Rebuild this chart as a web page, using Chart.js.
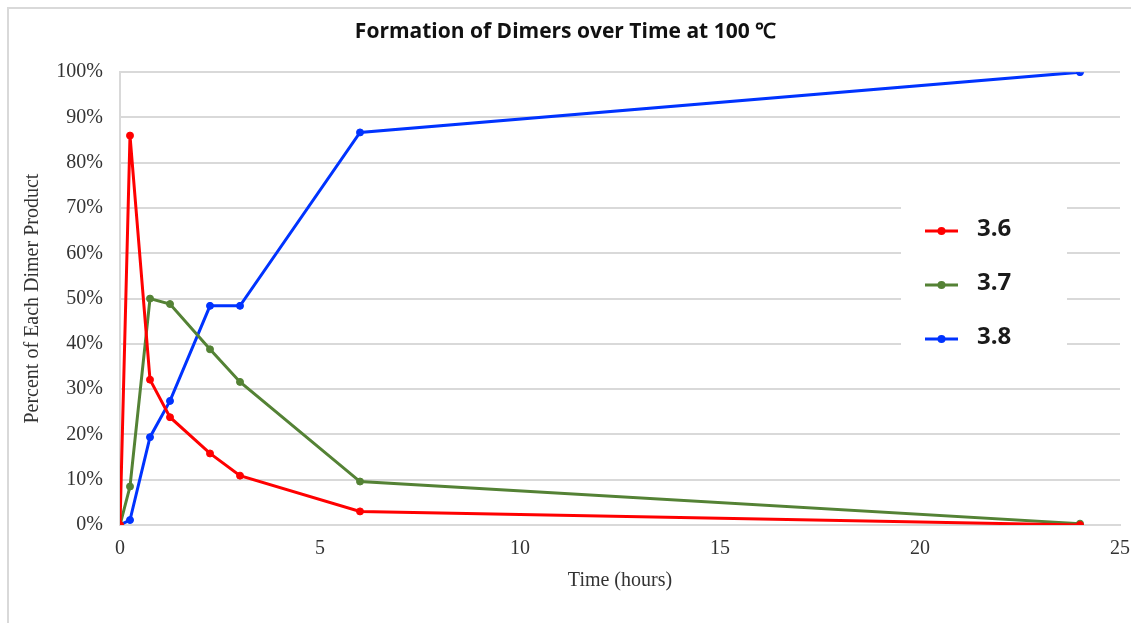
<!DOCTYPE html>
<html>
<head>
<meta charset="utf-8">
<title>Formation of Dimers over Time</title>
<script src="https://cdn.jsdelivr.net/npm/chart.js@4/dist/chart.umd.min.js"></script>
<style>
  html, body { margin: 0; padding: 0; background: #fff; }
  #wrap { width: 1131px; height: 623px; position: relative; }
</style>
</head>
<body>
<div id="wrap"><canvas id="chartDimers"></canvas></div>
<script>
// sampling times (hours) and percent of each dimer product
var hours   = [0, 0.25, 0.75, 1.25, 2.25, 3, 6, 24];
var dimer36 = [0, 86.0, 32.1, 23.8, 15.8, 10.9, 3.0, 0];
var dimer37 = [0, 8.5, 50.0, 48.8, 38.8, 31.6, 9.6, 0.3];
var dimer38 = [0, 1.1, 19.4, 27.4, 48.4, 48.4, 86.7, 100];

var seriesNames  = ['3.6', '3.7', '3.8'];
var seriesColors = ['#ff0000', '#548235', '#0033ff'];

var yTicks = [0, 10, 20, 30, 40, 50, 60, 70, 80, 90, 100];
var xTicks = [0, 5, 10, 15, 20, 25];

var serif = "'Liberation Serif', 'Times New Roman', serif";

function toPoints(values) {
  return hours.map(function (h, i) { return {x: h, y: values[i]}; });
}

function makeDataset(label, values, color) {
  return {
    label: label,
    data: toPoints(values),
    borderColor: color,
    backgroundColor: color,
    pointBackgroundColor: color,
    pointBorderColor: color,
    borderWidth: 3,
    pointRadius: 3.5,
    pointBorderWidth: 1,
    tension: 0,
    fill: false
  };
}

// thin grey frame round the chart
var framePlugin = {
  id: 'frame',
  afterDraw: function (chart) {
    var ctx = chart.ctx;
    ctx.save();
    ctx.strokeStyle = '#d9d9d9';
    ctx.lineWidth = 2;
    ctx.beginPath();
    ctx.moveTo(8, 623);
    ctx.lineTo(8, 8);
    ctx.lineTo(1131, 8);
    ctx.stroke();
    ctx.restore();
  }
};

// legend sitting inside the plot, on a white patch
var insideLegend = {
  id: 'insideLegend',
  afterDatasetsDraw: function (chart) {
    var ctx = chart.ctx;
    ctx.save();
    ctx.fillStyle = '#fff';
    ctx.fillRect(901, 200, 166, 160);
    chart.data.datasets.forEach(function (ds, i) {
      var y = 229 + i * 54;
      ctx.strokeStyle = ds.borderColor;
      ctx.lineWidth = 3;
      ctx.beginPath();
      ctx.moveTo(925, y + 2);
      ctx.lineTo(958, y + 2);
      ctx.stroke();
      ctx.fillStyle = ds.borderColor;
      ctx.beginPath();
      ctx.arc(941.5, y + 2, 4, 0, Math.PI * 2);
      ctx.fill();
      ctx.fillStyle = '#1a1a1a';
      ctx.font = "bold 24px 'Open Sans', sans-serif";
      ctx.textBaseline = 'middle';
      ctx.textAlign = 'left';
      ctx.fillText(ds.label, 977, y);
    });
    ctx.restore();
  }
};

var ctx = document.getElementById('chartDimers').getContext('2d');

new Chart(ctx, {
  type: 'line',
  data: {
    datasets: [
      makeDataset(seriesNames[0], dimer36, seriesColors[0]),
      makeDataset(seriesNames[1], dimer37, seriesColors[1]),
      makeDataset(seriesNames[2], dimer38, seriesColors[2])
    ]
  },
  options: {
    responsive: true,
    maintainAspectRatio: false,
    animation: false,
    layout: {
      padding: {left: 0, right: 0, top: 0, bottom: 0}
    },
    plugins: {
      legend: { display: false },
      tooltip: { enabled: false },
      title: {
        display: true,
        text: 'Formation of Dimers over Time at 100 \u2103',
        color: '#111',
        font: { family: "'Open Sans', sans-serif", size: 21, weight: 'bold', lineHeight: 1.2 },
        padding: { top: 19, bottom: 28 }
      }
    },
    scales: {
      x: {
        type: 'linear',
        min: 0,
        max: 25,
        afterBuildTicks: function (scale) {
          scale.ticks = xTicks.map(function (v) { return {value: v}; });
        },
        afterFit: function (scale) {
          scale.height = 98;
          scale.paddingRight = 11;   // plot ends 11px short of the canvas edge
        },
        grid: { display: false, drawTicks: false },
        border: { display: true, color: '#d9d9d9', width: 2 },
        ticks: {
          color: '#333',
          padding: 12,
          maxRotation: 0,
          font: { family: serif, size: 20 }
        },
        title: {
          display: true,
          text: 'Time (hours)',
          color: '#333',
          font: { family: serif, size: 20 },
          padding: { top: 0, bottom: 30 }
        }
      },
      y: {
        min: 0,
        max: 100,
        afterBuildTicks: function (scale) {
          scale.ticks = yTicks.map(function (v) { return {value: v}; });
        },
        afterFit: function (scale) { scale.width = 120; },
        grid: { color: '#d9d9d9', lineWidth: 2, drawTicks: false },
        border: { display: true, color: '#d9d9d9', width: 2 },
        ticks: {
          color: '#333',
          padding: 17,
          font: { family: serif, size: 20 },
          callback: function (value) { return value + '%'; }
        },
        title: {
          display: true,
          text: 'Percent of Each Dimer Product',
          color: '#333',
          font: { family: serif, size: 20 },
          padding: { top: 21, bottom: 0 }
        }
      }
    }
  },
  plugins: [framePlugin, insideLegend]
});
</script>
</body>
</html>
